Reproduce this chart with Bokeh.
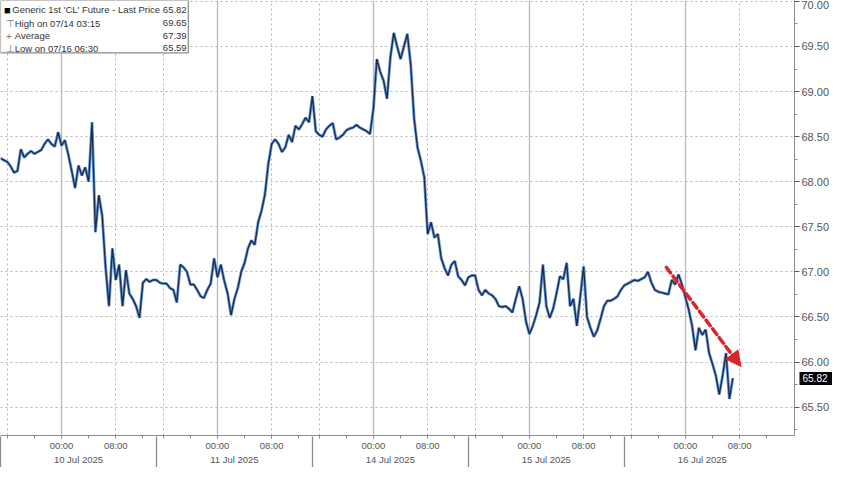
from bokeh.plotting import figure
from bokeh.models import (Range1d, LinearAxis, FixedTicker, Grid, Label,
                          BoxAnnotation, Arrow, NormalHead, NumeralTickFormatter)
from bokeh.embed import file_html
from bokeh.resources import INLINE

# ---------------- data ----------------
session_dates = ["10 Jul 2025", "11 Jul 2025", "14 Jul 2025", "15 Jul 2025", "16 Jul 2025"]
session_open_hour = 15      # chart-local clock hour at which each session opens
session_hours = 23          # length of one trading session
step_hours = 0.5            # spacing of the price samples

prices_10jul = [68.26, 68.24, 68.22, 68.17, 68.10, 68.12, 68.36, 68.27, 68.31, 68.34,
                68.31, 68.33, 68.35, 68.42, 68.47, 68.42, 68.39, 68.55, 68.40, 68.46,
                68.30, 68.12, 67.93, 68.18, 68.07, 68.16, 68.00, 68.66, 67.44, 67.85,
                67.62, 67.05, 66.62, 67.26, 66.91, 67.08, 66.62, 67.02, 66.76, 66.70,
                66.62, 66.49, 66.88, 66.92, 66.89, 66.91]
prices_11jul = [66.91, 66.88, 66.87, 66.87, 66.82, 66.80, 66.66, 67.08, 67.05, 67.00,
                66.86, 66.86, 66.80, 66.73, 66.71, 66.80, 66.87, 67.15, 66.94, 67.08,
                66.90, 66.76, 66.52, 66.70, 66.82, 67.00, 67.10, 67.26, 67.35, 67.30,
                67.55, 67.68, 67.86, 68.20, 68.42, 68.47, 68.42, 68.33, 68.38, 68.52,
                68.44, 68.62, 68.58, 68.64, 68.71, 68.66]
prices_14jul = [68.95, 68.56, 68.52, 68.50, 68.58, 68.62, 68.65, 68.47, 68.49, 68.52,
                68.57, 68.59, 68.60, 68.63, 68.60, 68.58, 68.56, 68.53, 68.81, 69.36,
                69.22, 69.12, 68.92, 69.38, 69.65, 69.50, 69.36, 69.50, 69.64, 69.30,
                68.70, 68.38, 68.23, 68.05, 67.42, 67.55, 67.38, 67.42, 67.15, 67.04,
                66.96, 67.08, 67.12, 66.95, 66.91, 66.85]
prices_15jul = [66.94, 66.96, 66.96, 66.80, 66.74, 66.80, 66.76, 66.74, 66.70, 66.62,
                66.61, 66.62, 66.59, 66.55, 66.70, 66.84, 66.70, 66.45, 66.31, 66.40,
                66.52, 66.66, 67.08, 66.62, 66.49, 66.59, 66.76, 66.95, 66.92, 67.10,
                66.62, 66.70, 66.40, 66.72, 67.06, 66.50, 66.38, 66.28, 66.35, 66.48,
                66.62, 66.68, 66.68, 66.70, 66.73, 66.80]
prices_16jul = [66.85, 66.87, 66.89, 66.91, 66.90, 66.92, 66.94, 67.00, 66.88, 66.80,
                66.78, 66.77, 66.76, 66.75, 66.91, 66.86, 66.97, 66.86, 66.72, 66.58,
                66.40, 66.13, 66.38, 66.30, 66.36, 66.10, 65.98, 65.85, 65.64, 65.85,
                66.10, 65.59, 65.82]

legend_names = ["Generic 1st 'CL' Future - Last Price", "High on 07/14 03:15", "Average", "Low on 07/16 06:30"]
legend_values = ["65.82", "69.65", "67.39", "65.59"]
last_price = 65.82

y_ticks = [65.5, 66.0, 66.5, 67.0, 67.5, 68.0, 68.5, 69.0, 69.5, 70.0]
y_minor = [65.25, 65.75, 66.25, 66.75, 67.25, 67.75, 68.25, 68.75, 69.25, 69.75]

# trend arrow (session-hour, price)
arrow_start = (98.2, 67.05)
arrow_end = (109.2, 65.95)

# ---------------- derived ----------------
prices = prices_10jul + prices_11jul + prices_14jul + prices_15jul + prices_16jul
t = [i * step_hours for i in range(len(prices))]
starts = [i * session_hours for i in range(len(session_dates))]

def off(hour):  # offset of a clock hour inside a session
    return (hour - session_open_hour) % 24

midnights = [s + off(0) for s in starts]
eights = [s + off(8) for s in starts]
sixteens = [s + off(16) for s in starts]
minor_x = [s + off(h) for s in starts for h in (16, 20, 0, 4, 8, 12)]
date_pos = [m + 2.5 for m in midnights]

FONT = "Liberation Sans"
GRID = "#b4b4b4"
X_END = 117.1

p = figure(width=832, height=467, output_backend="svg", toolbar_location=None,
           x_range=Range1d(0, X_END), y_range=Range1d(65.185, 70.01),
           y_axis_location="right",
           min_border_left=0, min_border_top=0, min_border_right=0, min_border_bottom=0,
           background_fill_color="white", border_fill_color="white",
           outline_line_color=None)

# grids
p.xgrid.visible = False
p.ygrid.ticker = FixedTicker(ticks=y_ticks)
p.ygrid.grid_line_color = GRID
p.ygrid.grid_line_dash = "2 3"
p.ygrid.grid_line_width = 1
p.add_layout(Grid(dimension=0, ticker=FixedTicker(ticks=midnights),
                  grid_line_color="#b8b8b8", grid_line_width=1.3))
p.add_layout(Grid(dimension=0, ticker=FixedTicker(ticks=eights + sixteens),
                  grid_line_color=GRID, grid_line_dash="2 3", grid_line_width=1))

# y axis (right)
ya = p.yaxis[0]
ya.ticker = FixedTicker(ticks=y_ticks, minor_ticks=y_minor)
ya.formatter = NumeralTickFormatter(format="0.00")
ya.axis_line_color = "#8c8c8c"
ya.major_tick_line_color = "#555555"
ya.minor_tick_line_color = "#8c8c8c"
ya.major_tick_in = 0
ya.major_tick_out = 5
ya.minor_tick_in = 0
ya.minor_tick_out = 3
ya.major_label_standoff = 2
ya.major_label_text_font = FONT
ya.major_label_text_font_size = "11px"
ya.major_label_text_color = "#555555"

# last price tag: a second right axis whose single thick tick reaches back over the first
ta = LinearAxis(ticker=FixedTicker(ticks=[last_price]),
                formatter=NumeralTickFormatter(format="0.00"),
                axis_line_color=None, minor_tick_line_color=None,
                minor_tick_in=0, minor_tick_out=0,
                major_tick_in=33, major_tick_out=0,
                major_tick_line_color="black", major_tick_line_width=13,
                major_tick_line_cap="butt",
                major_label_standoff=-30, major_label_text_color="white",
                major_label_text_font=FONT, major_label_text_font_size="10px")
p.add_layout(ta, "right")

# x axis: times
xa = p.xaxis[0]
xa.ticker = FixedTicker(ticks=midnights + eights, minor_ticks=minor_x)
xa.major_label_overrides = {**{m: "00:00" for m in midnights}, **{e: "08:00" for e in eights}}
xa.axis_line_color = "#8c8c8c"
xa.major_tick_line_color = "#8c8c8c"
xa.minor_tick_line_color = "#8c8c8c"
xa.major_tick_in = 0
xa.major_tick_out = 3
xa.minor_tick_in = 0
xa.minor_tick_out = 3
xa.major_label_standoff = 1
xa.major_label_text_font = FONT
xa.major_label_text_font_size = "9.5px"
xa.major_label_text_color = "#555555"

# x axis: dates; its minor ticks are the session separators reaching up to the time axis
da = LinearAxis(ticker=FixedTicker(ticks=date_pos, minor_ticks=starts),
                major_label_overrides={d: s for d, s in zip(date_pos, session_dates)},
                axis_line_color=None, major_tick_line_color=None,
                minor_tick_line_color="#8c8c8c", minor_tick_line_width=1.3,
                major_tick_in=0, major_tick_out=0, minor_tick_in=17, minor_tick_out=22,
                major_label_standoff=-22, major_label_text_font=FONT,
                major_label_text_font_size="9.5px", major_label_text_color="#555555")
p.add_layout(da, "below")

# price line
p.line(t, prices, line_color="#6e9fd9", line_width=3.0)
p.line(t, prices, line_color="#1c2d52", line_width=1.4)

# trend arrow
red = "#d8262b"
p.add_layout(Arrow(x_start=arrow_start[0], y_start=arrow_start[1],
                   x_end=arrow_end[0], y_end=arrow_end[1],
                   line_color=red, line_width=3.5, line_dash="7 4", line_cap="round",
                   end=NormalHead(size=15, fill_color=red, line_color=red)))

# legend box
p.add_layout(BoxAnnotation(left=0, right=27.7, top=70.01, bottom=69.43,
                           fill_color="white", fill_alpha=1.0,
                           line_color="#8a8a8a", line_alpha=1.0, line_width=1.2))
row_y = [69.905, 69.757, 69.619, 69.481]
symbols = ["■", "⊤", "+", "⊥"]
for i, (name, val) in enumerate(zip(legend_names, legend_values)):
    p.add_layout(Label(x=0.5 if i == 0 else 0.8, y=row_y[i], text=symbols[i],
                       text_align="left", text_baseline="middle",
                       text_color="black" if i == 0 else "#777777",
                       text_font=FONT, text_font_size="11px" if i == 0 else "10px"))
    p.add_layout(Label(x=1.75 if i == 0 else 2.1, y=row_y[i], text=name,
                       text_align="left", text_baseline="middle", text_color="#333333",
                       text_font=FONT, text_font_size="9.5px"))
    p.add_layout(Label(x=27.45, y=row_y[i], text=val,
                       text_align="right", text_baseline="middle", text_color="#333333",
                       text_font=FONT, text_font_size="9.5px"))

open("out.html", "w").write(file_html(p, INLINE))
